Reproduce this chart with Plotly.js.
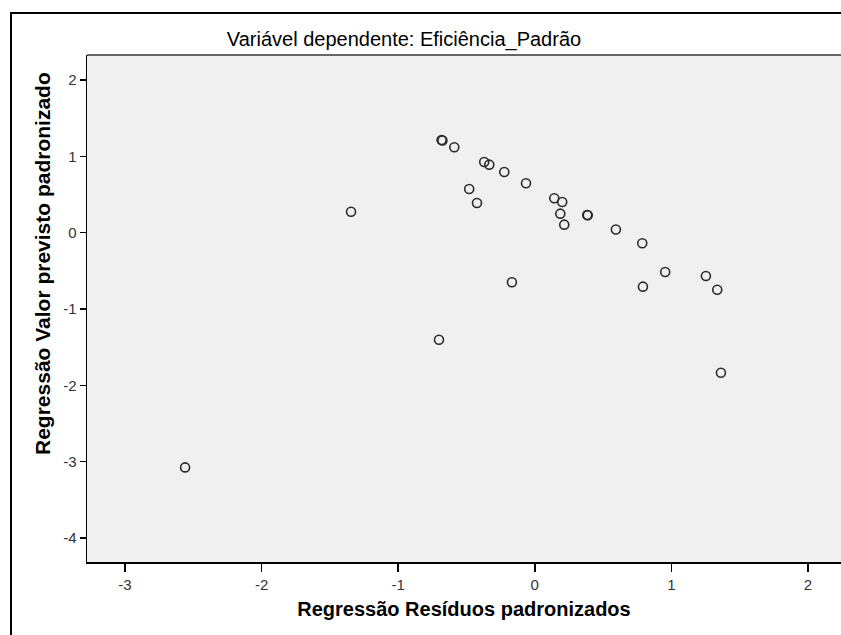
<!DOCTYPE html>
<html><head><meta charset="utf-8">
<script src="https://cdn.plot.ly/plotly-3.0.1.min.js"></script>
<style>html,body{margin:0;padding:0;background:#fff}#chart{width:841px;height:635px}</style>
</head><body><div id="chart"></div>
<script>
// Standardized residuals (x) and standardized predicted values (y)
const residuals = [-2.56, -1.345, -0.682, -0.676, -0.589, -0.370, -0.333, -0.223, -0.064, -0.480, -0.423,
  0.143, 0.201, 0.187, 0.216, 0.384, 0.388, 0.594, 0.787, 0.955, 0.792, 1.253, 1.336, 1.363, -0.167, -0.701];
const predicted = [-3.075, 0.275, 1.214, 1.208, 1.119, 0.926, 0.891, 0.795, 0.647, 0.573, 0.389,
  0.451, 0.402, 0.249, 0.105, 0.232, 0.228, 0.042, -0.139, -0.515, -0.707, -0.567, -0.747, -1.834, -0.650, -1.402];
const xTicks = [-3, -2, -1, 0, 1, 2];
const yTicks = [2, 1, 0, -1, -2, -3, -4];
const chartTitle = 'Variável dependente: Eficiência_Padrão';
const xTitle = 'Regressão Resíduos padronizados';
const yTitle = 'Regressão Valor previsto padronizado';

const FONT = 'Liberation Sans, Arial, sans-serif';

const trace = {
  type: 'scatter', mode: 'markers',
  x: residuals, y: predicted,
  marker: {symbol: 'circle-open', size: 9, color: '#2a2a2a', line: {width: 1.6}},
  hoverinfo: 'x+y'
};

const layout = {
  width: 841, height: 635,
  margin: {l: 87, r: 0, t: 55, b: 73},
  paper_bgcolor: '#ffffff',
  plot_bgcolor: '#f0f0f0',
  showlegend: false,
  font: {family: FONT, color: '#333'},
  title: {
    text: chartTitle,
    font: {family: FONT, size: 20, color: '#000'},
    xref: 'container', x: 404 / 841, xanchor: 'center',
    yref: 'container', y: 1 - 39 / 635, yanchor: 'middle'
  },
  xaxis: {
    range: [-3.278, 2.242],
    tickvals: xTicks, ticktext: xTicks.map(String),
    ticks: 'outside', ticklen: 8, tickwidth: 1.5, tickcolor: '#000',
    showline: true, linecolor: '#000', linewidth: 1.5,
    showgrid: false, zeroline: false,
    tickfont: {family: FONT, size: 15, color: '#333'},
    title: {text: xTitle, font: {family: FONT, size: 20, color: '#000', weight: 'bold'}, standoff: 10}
  },
  yaxis: {
    range: [-4.314, 2.3275],
    tickvals: yTicks, ticktext: yTicks.map(String),
    ticks: 'outside', ticklen: 6, tickwidth: 1.5, tickcolor: '#000',
    showline: true, linecolor: '#000', linewidth: 1.5,
    showgrid: false, zeroline: false,
    tickfont: {family: FONT, size: 15, color: '#333'}
  },
  annotations: [{
    text: yTitle, textangle: -90,
    xref: 'paper', yref: 'paper',
    x: (42 - 87) / 754, y: (562 - 264) / 507,
    xanchor: 'center', yanchor: 'middle', showarrow: false,
    font: {family: FONT, size: 21, color: '#000', weight: 'bold'}
  }],
  shapes: [
    {type: 'line', xref: 'paper', yref: 'paper', x0: 0, x1: 1, y0: 1, y1: 1,
     line: {color: '#666', width: 2}},
    {type: 'rect', xref: 'paper', yref: 'paper',
     x0: (11 - 87) / 754, x1: 1.2, y0: -0.3, y1: (562 - 13) / 507,
     line: {color: '#000', width: 2}, fillcolor: 'rgba(0,0,0,0)'}
  ]
};

Plotly.newPlot('chart', [trace], layout, {displayModeBar: false, staticPlot: true});
</script></body></html>
